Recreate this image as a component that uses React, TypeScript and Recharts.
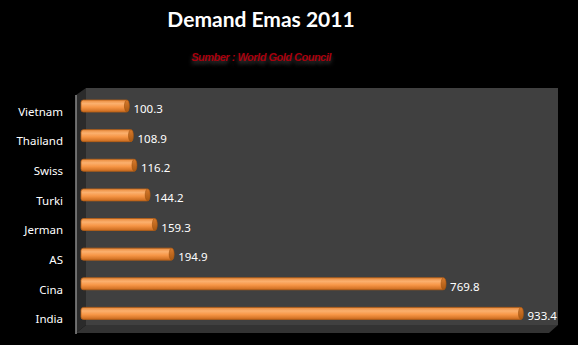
import { BarChart, Bar, XAxis, YAxis, LabelList } from 'recharts';

const countries = ['Vietnam', 'Thailand', 'Swiss', 'Turki', 'Jerman', 'AS', 'Cina', 'India'];
const demand = [100.3, 108.9, 116.2, 144.2, 159.3, 194.9, 769.8, 933.4];
const xDomain = [0, 1000];

const data = countries.map((name, i) => ({ name, value: demand[i] }));

const W = 578;
const H = 345;
const margin = { top: 91, right: 24, bottom: 17, left: 0 };
const AXIS_W = 81;
const DEPTH = 8;

const plotLeft = margin.left + AXIS_W;
const plotRight = W - margin.right;
const plotTop = margin.top;
const plotBottom = H - margin.bottom;

const CylBar = (props: any) => {
  const { x, y, width, height } = props;
  if (!width || width <= 0) return null;
  const r = 2.5;
  return (
    <g>
      <rect x={x} y={y} width={width} height={height} rx={r} ry={r} fill="url(#barGrad)" stroke="#b65f16" strokeWidth={0.8} />
      <ellipse cx={x + width - 1.5} cy={y + height / 2} rx={2.5} ry={height / 2} fill="url(#capGrad)" stroke="#a0520f" strokeWidth={0.6} />
    </g>
  );
};

const ValueLabel = (props: any) => {
  const { x, y, width, height, value } = props;
  return (
    <text x={x + width + 5} y={y + height / 2 + 3} dy="0.35em" fill="#ffffff" fontSize={11.5} fontFamily="'Noto Sans', sans-serif">
      {value}
    </text>
  );
};

const CountryTick = (props: any) => {
  const { x, y, payload } = props;
  return (
    <text x={x} y={y + 6} dy="0.35em" textAnchor="end" fill="#ffffff" fontSize={11.5} fontFamily="'Noto Sans', sans-serif">
      {payload.value}
    </text>
  );
};

export default function App() {
  return (
    <div style={{ position: 'absolute', left: 0, top: 0, width: W, height: H, background: '#000', overflow: 'hidden' }}>
      <svg width={W} height={H} style={{ position: 'absolute', left: 0, top: 0 }}>
        {/* back wall */}
        <rect x={plotLeft + 5} y={plotTop - 3} width={plotRight + 4 - (plotLeft + 5)} height={plotBottom - 3 - (plotTop - 3)} fill="#404040" />
        {/* left wall */}
        <polygon
          points={`${plotLeft - 5},${plotTop + 4} ${plotLeft + 5},${plotTop - 3} ${plotLeft + 5},${plotBottom - 3} ${plotLeft - 5},${plotBottom + 5}`}
          fill="#2b2b2b"
        />
        {/* floor */}
        <polygon
          points={`${plotLeft - 5},${plotBottom + 5} ${plotLeft + 5},${plotBottom - 3} ${plotRight + 4},${plotBottom - 3} ${plotRight + 4 - DEPTH - 1},${plotBottom + 5}`}
          fill="#333333"
        />
        <line x1={plotLeft - 5} x2={plotLeft - 5} y1={plotTop + 4} y2={plotBottom + 6} stroke="#8a8a8a" strokeWidth={1.5} />
      </svg>

      <div style={{ position: 'absolute', left: 0, top: 6, width: 522, textAlign: 'center', color: '#fff', fontFamily: 'Lato, sans-serif', fontWeight: 700, fontSize: 21 }}>
        Demand Emas 2011
      </div>
      <div style={{ position: 'absolute', left: 0, top: 51, width: 522, textAlign: 'center', color: '#a8000c', fontFamily: "'Liberation Sans', sans-serif", fontStyle: 'italic', fontWeight: 700, fontSize: 11, letterSpacing: -0.5, textShadow: '0 3px 4px rgba(120,120,120,0.55)' }}>
        Sumber : World Gold Council
      </div>

      <div style={{ position: 'absolute', left: 0, top: 0 }}>
        <BarChart width={W} height={H} data={data} layout="vertical" margin={margin} barCategoryGap={0}>
          <defs>
            <linearGradient id="barGrad" x1="0" y1="0" x2="0" y2="1">
              <stop offset="0%" stopColor="#e98a3c" />
              <stop offset="30%" stopColor="#fbb06e" />
              <stop offset="60%" stopColor="#f79646" />
              <stop offset="100%" stopColor="#c96a1e" />
            </linearGradient>
            <linearGradient id="capGrad" x1="0" y1="0" x2="0" y2="1">
              <stop offset="0%" stopColor="#d87a2c" />
              <stop offset="100%" stopColor="#a85812" />
            </linearGradient>
          </defs>
          <XAxis type="number" domain={xDomain} hide />
          <YAxis
            type="category"
            dataKey="name"
            width={AXIS_W}
            axisLine={false}
            tickLine={false}
            tickSize={0}
            tickMargin={18}
            tick={<CountryTick />}
            interval={0}
          />
          <Bar dataKey="value" barSize={12} shape={<CylBar />} isAnimationActive={false}>
            <LabelList dataKey="value" content={<ValueLabel />} />
          </Bar>
        </BarChart>
      </div>
    </div>
  );
}
